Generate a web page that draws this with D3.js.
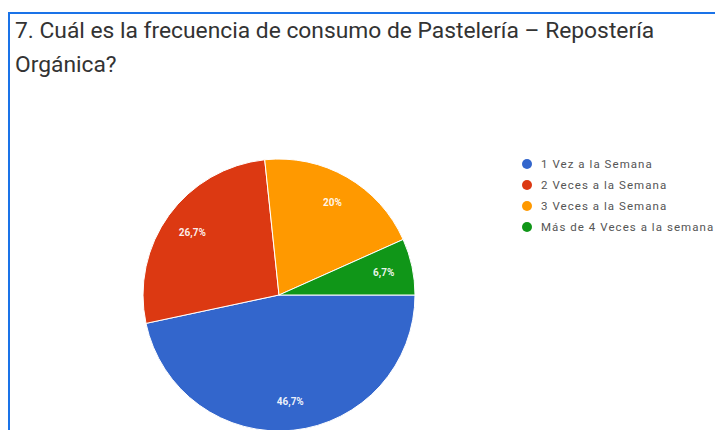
<!DOCTYPE html>
<html>
<head>
<meta charset="utf-8">
<script src="https://cdn.jsdelivr.net/npm/d3@7"></script>
<style>
  html, body { margin: 0; padding: 0; background: #fff; overflow: hidden; }
  svg { display: block; }
</style>
</head>
<body>
<svg id="chart" width="715" height="430"></svg>
<script>
// Answer categories and their share of responses (%)
const categories = [
  "1 Vez a la Semana",
  "2 Veces a la Semana",
  "3 Veces a la Semana",
  "Más de 4 Veces a la semana"
];
const shares = [46.7, 26.7, 20, 6.7];
const shareLabels = ["46,7%", "26,7%", "20%", "6,7%"];
const colors = ["#3366cc", "#dc3912", "#ff9900", "#109618"];
const titleLines = [
  "7. Cuál es la frecuencia de consumo de Pastelería – Repostería",
  "Orgánica?"
];

const svg = d3.select("#chart");
const W = 715, H = 430;

// Card frame: blue rule on top and left
svg.append("line").attr("x1", 8).attr("x2", W).attr("y1", 13).attr("y2", 13)
  .attr("stroke", "#1a73e8").attr("stroke-width", 2);
svg.append("line").attr("x1", 9).attr("x2", 9).attr("y1", 12).attr("y2", H)
  .attr("stroke", "#1a73e8").attr("stroke-width", 2);

// Question title
const title = svg.append("g").attr("font-family", "Roboto, 'Noto Sans', sans-serif")
  .attr("font-size", 22.8).attr("fill", "#333");
titleLines.forEach((t, i) => {
  title.append("text").attr("x", 15).attr("y", 38 + i * 34).text(t);
});

// Pie
const cx = 279, cy = 295, R = 136;
const data = categories.map((c, i) => ({ category: c, value: shares[i], label: shareLabels[i], color: colors[i] }));

const pie = d3.pie().value(d => d.value).sort(null)
  .startAngle(Math.PI / 2).endAngle(Math.PI / 2 + 2 * Math.PI);
const arc = d3.arc().innerRadius(0).outerRadius(R);
const labelArc = d3.arc().innerRadius(107).outerRadius(107);

const g = svg.append("g").attr("transform", `translate(${cx},${cy})`);
const arcs = pie(data);

g.selectAll("path").data(arcs).join("path")
  .attr("d", arc)
  .attr("fill", d => d.data.color)
  .attr("stroke", "#fff")
  .attr("stroke-width", 1);

g.selectAll("text").data(arcs).join("text")
  .attr("transform", d => `translate(${labelArc.centroid(d)})`)
  .attr("text-anchor", "middle")
  .attr("dy", "0.35em")
  .attr("font-family", "Roboto, Arial, sans-serif")
  .attr("font-size", 10)
  .attr("font-weight", "bold")
  .attr("fill", "#fff")
  .attr("fill-opacity", 0.92)
  .text(d => d.data.label);

// Legend
const legend = svg.append("g").attr("transform", "translate(527,164)");
const items = legend.selectAll("g").data(data).join("g")
  .attr("transform", (d, i) => `translate(0,${i * 21})`);
items.append("circle").attr("r", 5).attr("fill", d => d.color);
items.append("text")
  .attr("x", 14).attr("dy", "0.35em")
  .attr("font-family", "Roboto, Arial, sans-serif")
  .attr("font-size", 11.5)
  .attr("letter-spacing", "1.05px")
  .attr("fill", "#555")
  .text(d => d.category);
</script>
</body>
</html>
